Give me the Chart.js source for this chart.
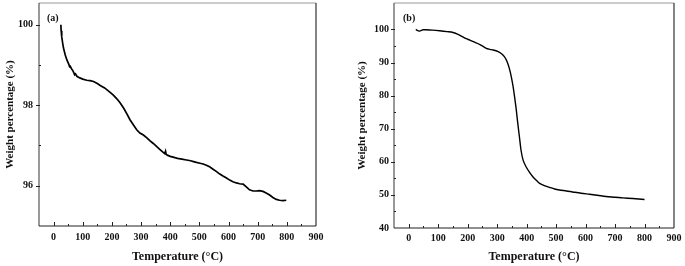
<!DOCTYPE html>
<html lang="en">
<head>
    <meta charset="UTF-8">
    <title>TGA curves</title>
    <script src="https://cdn.jsdelivr.net/npm/chart.js"></script>
    <style>
        body { margin: 0; background: #fff; }
        .panel { position: absolute; top: 0; }
        #panelA { left: 0; }
        #panelB { left: 340px; }
    </style>
</head>
<body>
    <div class="panel" id="panelA"><canvas id="chartA" width="340" height="266"></canvas></div>
    <div class="panel" id="panelB"><canvas id="chartB" width="345" height="266"></canvas></div>

    <script>
        // (a) weight loss
        const tempA = [25, 26, 28, 31, 34, 40, 46, 52, 55, 57, 62, 66, 70, 72, 75, 80, 90, 100, 114, 125, 137, 150, 160, 175, 194, 205, 217, 228, 240, 251, 262, 274, 285, 296, 308, 320, 330, 342, 354, 365, 376, 381, 384, 386, 390, 400, 410, 425, 440, 456, 470, 480, 490, 502, 513, 524, 535, 547, 559, 570, 581, 593, 604, 615, 627, 638, 650, 661, 672, 684, 695, 706, 718, 729, 741, 752, 764, 775, 787, 798];
        const weightA = [100.0, 99.85, 99.7, 99.55, 99.42, 99.25, 99.12, 99.02, 98.96, 98.97, 98.9, 98.86, 98.8, 98.76, 98.78, 98.72, 98.68, 98.65, 98.62, 98.61, 98.59, 98.54, 98.49, 98.43, 98.32, 98.25, 98.16, 98.06, 97.93, 97.79, 97.64, 97.51, 97.39, 97.31, 97.26, 97.19, 97.12, 97.05, 96.97, 96.9, 96.83, 96.8, 96.86, 96.78, 96.76, 96.73, 96.71, 96.68, 96.66, 96.64, 96.62, 96.6, 96.58, 96.56, 96.54, 96.51, 96.47, 96.41, 96.35, 96.29, 96.24, 96.19, 96.14, 96.1, 96.07, 96.05, 96.04, 95.97, 95.9, 95.87, 95.87, 95.88, 95.86, 95.82, 95.77, 95.71, 95.66, 95.64, 95.63, 95.64];

        // (b) weight loss
        const tempB = [24, 30, 37, 43, 49, 60, 80, 105, 130, 150, 165, 180, 195, 207, 225, 240, 252, 263, 275, 286, 298, 308, 317, 325, 331, 336, 342, 348, 354, 359, 365, 370, 376, 381, 388, 398, 410, 421, 433, 444, 460, 477, 495, 511, 535, 556, 585, 613, 640, 669, 700, 726, 760, 800];
        const weightB = [100.0, 99.7, 99.5, 99.7, 99.9, 99.9, 99.8, 99.6, 99.35, 99.1, 98.6, 97.9, 97.2, 96.8, 96.1, 95.5, 94.9, 94.3, 94.0, 93.8, 93.5, 93.1, 92.5, 91.7, 90.8, 89.7, 88.0, 85.7, 82.8, 79.7, 75.6, 71.6, 67.2, 63.5, 60.5, 58.5, 56.8, 55.5, 54.4, 53.5, 52.8, 52.3, 51.8, 51.5, 51.2, 50.9, 50.5, 50.2, 49.9, 49.5, 49.3, 49.1, 48.9, 48.6];

        const xLabels = [0, 100, 200, 300, 400, 500, 600, 700, 800, 900];
        const yLabelsA = [96, 98, 100];
        const yLabelsB = [40, 50, 60, 70, 80, 90, 100];

        const serif = '"Liberation Serif", "Times New Roman", serif';

        // frame + inward x ticks + y ticks, drawn from the scales
        const framePlugin = {
            id: 'frame',
            afterDraw(chart, args, opts) {
                const ctx = chart.ctx;
                const a = chart.chartArea;
                const xs = chart.scales.x, ys = chart.scales.y;
                ctx.save();
                ctx.lineWidth = 1.2;
                ctx.strokeStyle = '#999';
                ctx.beginPath(); ctx.moveTo(a.left, a.top); ctx.lineTo(a.right, a.top); ctx.stroke();
                ctx.strokeStyle = '#333';
                ctx.beginPath(); ctx.moveTo(a.right, a.top); ctx.lineTo(a.right, a.bottom); ctx.stroke();
                ctx.strokeStyle = '#555';
                ctx.beginPath(); ctx.moveTo(a.left, a.top); ctx.lineTo(a.left, a.bottom); ctx.stroke();
                ctx.strokeStyle = '#222';
                ctx.beginPath(); ctx.moveTo(a.left, a.bottom); ctx.lineTo(a.right, a.bottom); ctx.stroke();

                ctx.lineWidth = 1;
                ctx.strokeStyle = '#222';
                xs.ticks.forEach(t => {
                    if (t.value <= xs.min || t.value >= xs.max) return;
                    const px = Math.round(xs.getPixelForValue(t.value)) + 0.5;
                    const len = t.value % 100 === 0 ? 4 : 2;
                    ctx.beginPath(); ctx.moveTo(px, a.bottom); ctx.lineTo(px, a.bottom - len); ctx.stroke();
                });
                ys.ticks.forEach(t => {
                    if (t.value <= ys.min || t.value >= ys.max) return;
                    if (!Number.isInteger(t.value / opts.minor)) return;
                    const py = Math.round(ys.getPixelForValue(t.value)) + 0.5;
                    const major = opts.labels.includes(t.value);
                    ctx.beginPath();
                    ctx.moveTo(a.left - (major ? 3 : 0), py);
                    ctx.lineTo(a.left + (major ? 1 : 2), py);
                    ctx.stroke();
                });

                ctx.fillStyle = '#111';
                ctx.font = 'bold 10px ' + serif;
                ctx.textBaseline = 'middle';
                ctx.fillText(opts.tag, a.left + opts.tagX, a.top + 15);
                ctx.restore();
            }
        };

        function makeChart(id, temps, weights, cfg) {
            return new Chart(document.getElementById(id).getContext('2d'), {
                type: 'line',
                data: {
                    datasets: [{
                        data: temps.map((t, i) => ({ x: t, y: weights[i] })),
                        borderColor: '#000',
                        borderWidth: cfg.lineWidth,
                        pointRadius: 0,
                        tension: cfg.tension,
                        fill: false,
                    }],
                },
                options: {
                    responsive: false,
                    animation: false,
                    layout: { padding: { top: 3, right: cfg.padRight, left: 0, bottom: 0 } },
                    plugins: {
                        legend: { display: false },
                        tooltip: { enabled: false },
                        frame: { tag: cfg.tag, tagX: cfg.tagX, labels: cfg.yLabels, minor: cfg.minor },
                    },
                    scales: {
                        x: {
                            type: 'linear',
                            min: -50,
                            max: 900,
                            grid: { display: false, drawTicks: false },
                            border: { display: false },
                            ticks: {
                                stepSize: 50,
                                autoSkip: false,
                                maxRotation: 0,
                                padding: cfg.xPad,
                                color: '#111',
                                font: { family: serif, size: 10, weight: 'bold' },
                                callback: v => xLabels.includes(v) ? v : '',
                            },
                            title: {
                                display: true,
                                text: 'Temperature (°C)',
                                color: '#111',
                                font: { family: serif, size: 12, weight: 'bold' },
                                padding: { top: 0, bottom: 2 },
                            },
                            afterFit: s => {
                                s.height = cfg.xHeight;
                                s.paddingLeft = 0;
                                s.paddingRight = 0;
                            },
                        },
                        y: {
                            min: cfg.yMin,
                            max: cfg.yMax,
                            grid: { display: false, drawTicks: false },
                            border: { display: false },
                            ticks: {
                                stepSize: cfg.minor,
                                autoSkip: false,
                                padding: cfg.yPad,
                                color: '#111',
                                font: { family: serif, size: 10, weight: 'bold' },
                                callback: v => cfg.yLabels.includes(v) ? v : '',
                            },
                            title: {
                                display: true,
                                text: 'Weight percentage (%)',
                                color: '#111',
                                font: { family: serif, size: 11, weight: 'bold' },
                                padding: { top: cfg.titlePad, bottom: 0 },
                            },
                            afterFit: s => {
                                s.width = cfg.yWidth;
                                s.paddingTop = 0;
                                s.paddingBottom = 0;
                            },
                        },
                    },
                },
                plugins: [framePlugin],
            });
        }

        makeChart('chartA', tempA, weightA, {
            tag: '(a)', tagX: 8, yLabels: yLabelsA, minor: 1,
            yMin: 95, yMax: 100.54, yWidth: 39, xHeight: 40, padRight: 24,
            xPad: 5, yPad: 6, titlePad: 4, lineWidth: 1.7, tension: 0,
        });
        makeChart('chartB', tempB, weightB, {
            tag: '(b)', tagX: 9, yLabels: yLabelsB, minor: 5,
            yMin: 40, yMax: 108, yWidth: 54, xHeight: 38, padRight: 11,
            xPad: 4, yPad: 5, titlePad: 16, lineWidth: 1.4, tension: 0.3,
        });
    </script>
</body>
</html>
